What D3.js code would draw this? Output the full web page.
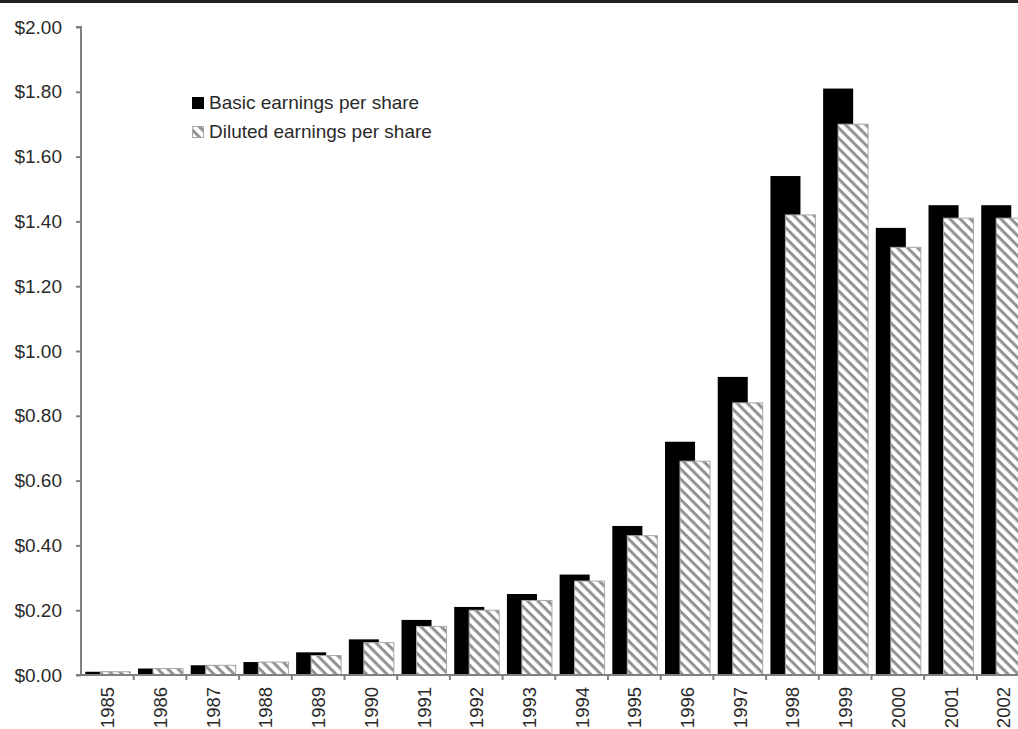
<!DOCTYPE html>
<html>
<head>
<meta charset="utf-8">
<script src="https://cdn.jsdelivr.net/npm/d3@7"></script>
<style>
  body { margin: 0; background: #fff; }
  svg { display: block; font-family: "Liberation Sans", Arial, sans-serif; }
</style>
</head>
<body>
<div id="chart"></div>
<script>
// data
var years = ['1985','1986','1987','1988','1989','1990','1991','1992','1993',
             '1994','1995','1996','1997','1998','1999','2000','2001','2002'];
var basicEPS = [0.01,0.02,0.03,0.04,0.07,0.11,0.17,0.21,0.25,
                0.31,0.46,0.72,0.92,1.54,1.81,1.38,1.45,1.45];
var dilutedEPS = [0.01,0.02,0.03,0.04,0.06,0.10,0.15,0.20,0.23,
                  0.29,0.43,0.66,0.84,1.42,1.70,1.32,1.41,1.41];
var yTicks = [0,0.2,0.4,0.6,0.8,1.0,1.2,1.4,1.6,1.8,2.0];
var seriesNames = ['Basic earnings per share','Diluted earnings per share'];

var W = 1018, H = 729;
var axisX = 81, axisY = 675, topY = 27;
var step = 52.7;
var fontSize = '19px';

var svg = d3.select('#chart').append('svg').attr('width', W).attr('height', H);

var defs = svg.append('defs');
var pat = defs.append('pattern')
    .attr('id', 'hatch')
    .attr('patternUnits', 'userSpaceOnUse')
    .attr('width', 7.2).attr('height', 7.2)
    .attr('patternTransform', 'rotate(45)');
pat.append('rect').attr('width', 7.2).attr('height', 7.2).attr('fill', '#fff');
pat.append('rect').attr('x', 0).attr('y', 0).attr('width', 7.2).attr('height', 3).attr('fill', '#929292');

// dark strip at the top of the scan
svg.append('rect').attr('x', 0).attr('y', 0).attr('width', W).attr('height', 3).attr('fill', '#231f20');

var x = d3.scaleBand().domain(years).range([axisX, axisX + step * years.length]).padding(0);
var y = d3.scaleLinear().domain([0, 2]).range([axisY, topY]);
var bw = x.bandwidth();

// bars: basic (black) then diluted (hatched) overlapping on top
var g = svg.append('g');
g.selectAll('rect.basic').data(years).enter().append('rect')
    .attr('class', 'basic')
    .attr('x', function(d) { return x(d) + bw * 0.082; })
    .attr('width', bw * 0.57)
    .attr('y', function(d, i) { return y(basicEPS[i]); })
    .attr('height', function(d, i) { return axisY - y(basicEPS[i]); })
    .attr('fill', '#000');

g.selectAll('rect.diluted').data(years).enter().append('rect')
    .attr('class', 'diluted')
    .attr('x', function(d) { return x(d) + bw * 0.366; })
    .attr('width', bw * 0.57)
    .attr('y', function(d, i) { return y(dilutedEPS[i]); })
    .attr('height', function(d, i) { return axisY - y(dilutedEPS[i]); })
    .attr('fill', 'url(#hatch)')
    .attr('stroke', '#a8a8a8')
    .attr('stroke-width', 1);

// y axis
var yAxis = d3.axisLeft(y).tickValues(yTicks).tickSize(5).tickPadding(14)
    .tickFormat(function(d) { return '$' + d3.format('.2f')(d); });
var ya = svg.append('g').attr('transform', 'translate(' + axisX + ',0)').call(yAxis);
ya.select('.domain').attr('stroke', '#808080').attr('stroke-width', 2)
    .attr('d', 'M-5,' + topY + 'H0V' + axisY + 'H-5');
ya.selectAll('.tick line').attr('stroke', '#808080').attr('stroke-width', 2);
ya.selectAll('.tick text').attr('fill', '#2a2a2a').style('font-size', fontSize);

// x axis line and category ticks
svg.append('line').attr('x1', axisX).attr('x2', W).attr('y1', axisY).attr('y2', axisY)
    .attr('stroke', '#808080').attr('stroke-width', 2);
svg.append('g').selectAll('line').data(years.slice(1)).enter().append('line')
    .attr('x1', function(d) { return x(d); }).attr('x2', function(d) { return x(d); })
    .attr('y1', axisY).attr('y2', axisY + 5)
    .attr('stroke', '#808080').attr('stroke-width', 2);

svg.append('g').selectAll('text').data(years).enter().append('text')
    .attr('transform', function(d) {
        return 'translate(' + (x(d) + bw / 2 + 7) + ',' + (axisY + 12) + ') rotate(-90)';
    })
    .attr('text-anchor', 'end')
    .attr('fill', '#2a2a2a')
    .style('font-size', '18.5px')
    .text(function(d) { return d; });

// legend
var leg = svg.append('g').attr('transform', 'translate(192,97)');
leg.append('rect').attr('x', 0).attr('y', 0).attr('width', 12).attr('height', 12).attr('fill', '#000');
leg.append('rect').attr('x', 0.5).attr('y', 29.5).attr('width', 11).attr('height', 11)
    .attr('fill', 'url(#hatch)').attr('stroke', '#a8a8a8');
leg.selectAll('text').data(seriesNames).enter().append('text')
    .attr('x', 17)
    .attr('y', function(d, i) { return 12 + i * 29; })
    .attr('fill', '#2a2a2a')
    .style('font-size', fontSize)
    .text(function(d) { return d; });
</script>
</body>
</html>
